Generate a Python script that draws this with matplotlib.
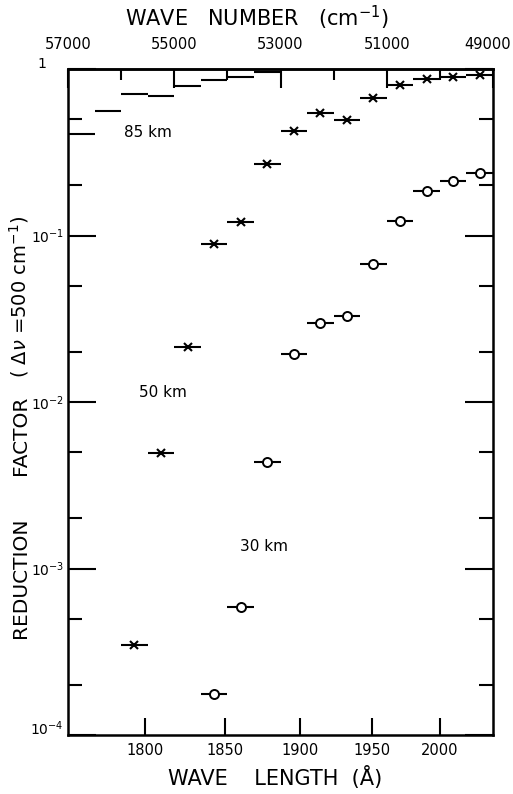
import numpy as np
import matplotlib
matplotlib.use("Agg")
import matplotlib.pyplot as plt
from matplotlib.ticker import LogLocator, FixedLocator, NullFormatter, FixedFormatter
from matplotlib.transforms import ScaledTranslation

# ---- data (wave number bin centres in cm^-1, reduction factor) ----
nu_85 = [56750, 56250, 55750, 55250, 54750, 54250, 53750, 53250]
rf_85 = [0.408, 0.557, 0.708, 0.689, 0.791, 0.853, 0.896, 0.953]

nu_50 = [55750, 55250, 54750, 54250, 53750, 53250, 52750, 52250,
         51750, 51250, 50750, 50250, 49750, 49250]
rf_50 = [3.46e-4, 4.95e-3, 0.0213, 0.0883, 0.121, 0.270, 0.425, 0.545,
         0.495, 0.670, 0.807, 0.871, 0.895, 0.921]

nu_30 = [54250, 53750, 53250, 52750, 52250, 51750, 51250, 50750,
         50250, 49750, 49250]
rf_30 = [1.76e-4, 5.84e-4, 4.37e-3, 0.0194, 0.0297, 0.0327, 0.067, 0.123,
         0.186, 0.213, 0.238]

bin_width = 500  # cm^-1
wl_ticks = [1800, 1850, 1900, 1950, 2000]
wn_major = [57000, 55000, 53000, 51000, 49000]
wn_minor = [56000, 54000, 52000, 50000]
y_major = [1e-4, 1e-3, 1e-2, 1e-1, 1]
y_labels = [r'$10^{-4}$', r'$10^{-3}$', r'$10^{-2}$', r'$10^{-1}$', '1']

plt.rcParams['font.family'] = ['DejaVu Sans']
plt.rcParams['mathtext.fontset'] = 'dejavusans'

fig = plt.figure(figsize=(5.13, 7.94), dpi=100)
ax = fig.add_axes([68/513, 1-735/794, (493-68)/513, (735-69)/794])

lw = 1.5
hw = bin_width / 2
ax.errorbar(nu_85, rf_85, xerr=hw, fmt='none', ecolor='black', elinewidth=lw, capsize=0)
ax.errorbar(nu_50, rf_50, xerr=hw, fmt='x', color='black', ecolor='black',
            elinewidth=lw, capsize=0, ms=6, mew=1.5)
ax.errorbar(nu_30, rf_30, xerr=hw, fmt='o', color='black', mfc='white', ecolor='black',
            elinewidth=lw, capsize=0, ms=6.5, mew=1.4, zorder=3)

ax.set_xlim(57000, 49000)
ax.set_yscale('log')
ax.set_ylim(1e-4, 1)

for s in ax.spines.values():
    s.set_linewidth(1.8)

# y ticks
ax.yaxis.set_major_locator(FixedLocator(y_major))
ax.yaxis.set_major_formatter(FixedFormatter(y_labels))
ax.yaxis.set_minor_locator(LogLocator(base=10, subs=[2, 5], numticks=20))
ax.yaxis.set_minor_formatter(NullFormatter())
ax.tick_params(axis='y', which='major', direction='in', length=20, width=1.5,
               left=True, right=True, labelsize=10, pad=3)
ax.tick_params(axis='y', which='minor', direction='in', length=10, width=1.5,
               left=True, right=True)

# bottom: wavelength ticks placed at their wave numbers
wl_pos = [1e8 / w for w in wl_ticks]
ax.set_xticks(wl_pos)
ax.set_xticklabels([str(w) for w in wl_ticks])
ax.xaxis.set_minor_locator(FixedLocator([]))
ax.tick_params(axis='x', which='major', direction='in', length=12, width=1.5,
               labelsize=10.5, pad=6, top=False)

# top: wave number axis
top = ax.secondary_xaxis('top')
top.set_xticks(wn_major)
top.set_xticklabels([str(v) for v in wn_major])
top.xaxis.set_minor_locator(FixedLocator(wn_minor))
top.tick_params(axis='x', which='major', direction='in', length=14, width=1.5,
                labelsize=10.5, pad=12)
top.tick_params(axis='x', which='minor', direction='in', length=8, width=1.5)
top.spines['top'].set_linewidth(1.8)

fig.canvas.draw()
# nudge corner labels like the original
tl = top.xaxis.get_majorticklabels()
tl[-1].set_transform(tl[-1].get_transform() + ScaledTranslation(-0.05, 0, fig.dpi_scale_trans))
yl = ax.yaxis.get_majorticklabels()
yl[-1].set_transform(yl[-1].get_transform() + ScaledTranslation(-0.18, 0.07, fig.dpi_scale_trans))
yl[0].set_transform(yl[0].get_transform() + ScaledTranslation(0, 0.08, fig.dpi_scale_trans))

# curve labels
ax.text(55493, 0.414, '85 km', fontsize=11, ha='center', va='center')
ax.text(55211, 0.01148, '50 km', fontsize=11, ha='center', va='center')
ax.text(53309, 1.355e-3, '30 km', fontsize=11, ha='center', va='center')

# axis titles
fig.text(257/513, 1-18/794, r'WAVE   NUMBER   (cm$^{-1}$)', fontsize=15,
         ha='center', va='center')
fig.text(275/513, 1-778/794, 'WAVE    LENGTH  (Å)', fontsize=15,
         ha='center', va='center')
fig.text(21/513, 1-578/794, 'REDUCTION', fontsize=14.5, ha='center', va='center', rotation=90)
fig.text(21/513, 1-435/794, 'FACTOR', fontsize=14.5, ha='center', va='center', rotation=90)
fig.text(19/513, 1-297/794, r'( $\Delta\nu$ =500 cm$^{-1}$)', fontsize=14,
         ha='center', va='center', rotation=90)

fig.savefig('out.png', dpi=100)
